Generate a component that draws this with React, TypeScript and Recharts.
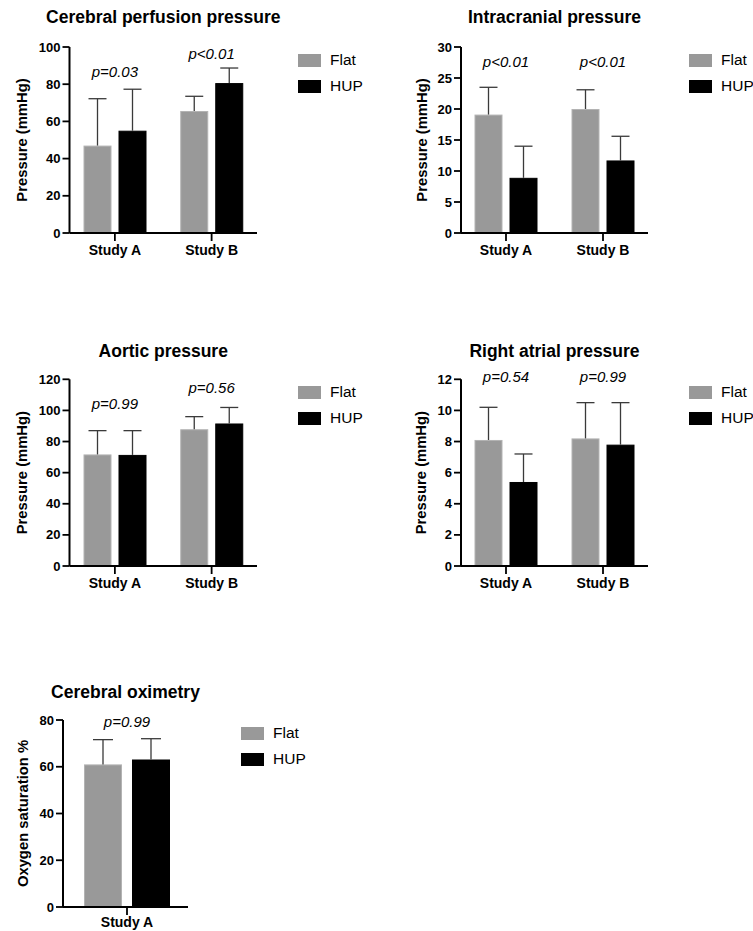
import React from 'react';
import { BarChart, Bar, XAxis, YAxis, Legend, ReferenceDot } from 'recharts';

const FONT = '"Liberation Sans", Arial, Helvetica, sans-serif';
const FLAT_COLOR = '#999999';
const HUP_COLOR = '#000000';
const WHISKER = '#3a3a3a';

/* ---------- DATA ---------- */
const studiesAB = ['Study A', 'Study B'];
const studyA = ['Study A'];

// Cerebral perfusion pressure
const cppFlat = [47, 65.6];
const cppFlatSd = [25.2, 7.9];
const cppHup = [55, 80.6];
const cppHupSd = [22.3, 8.1];
const cppP = ['p=0.03', 'p<0.01'];
const cppPAt = [87, 96.5];
const cppTicks = [0, 20, 40, 60, 80, 100];

// Intracranial pressure
const icpFlat = [19.1, 20];
const icpFlatSd = [4.4, 3.1];
const icpHup = [8.9, 11.7];
const icpHupSd = [5.1, 3.9];
const icpP = ['p<0.01', 'p<0.01'];
const icpPAt = [27.7, 27.7];
const icpTicks = [0, 5, 10, 15, 20, 25, 30];

// Aortic pressure
const aoFlat = [71.7, 87.9];
const aoFlatSd = [15.3, 8.1];
const aoHup = [71.4, 91.6];
const aoHupSd = [15.6, 10.3];
const aoP = ['p=0.99', 'p=0.56'];
const aoPAt = [104.4, 114.6];
const aoTicks = [0, 20, 40, 60, 80, 100, 120];

// Right atrial pressure
const rapFlat = [8.1, 8.2];
const rapFlatSd = [2.1, 2.3];
const rapHup = [5.4, 7.8];
const rapHupSd = [1.8, 2.7];
const rapP = ['p=0.54', 'p=0.99'];
const rapPAt = [12.15, 12.15];
const rapTicks = [0, 2, 4, 6, 8, 10, 12];

// Cerebral oximetry
const oxFlat = [61];
const oxFlatSd = [10.6];
const oxHup = [63.1];
const oxHupSd = [8.9];
const oxP = ['p=0.99'];
const oxPAt = [79.3];
const oxTicks = [0, 20, 40, 60, 80];

/* ---------- HELPERS ---------- */
const makeRows = (
  cats: string[],
  flat: number[],
  flatSd: number[],
  hup: number[],
  hupSd: number[]
) =>
  cats.map((study, i) => ({
    study,
    flat: flat[i],
    flatSd: flatSd[i],
    hup: hup[i],
    hupSd: hupSd[i],
  }));

// bar rectangle plus an upward-only SD whisker
const barWithWhisker =
  (valKey: string, sdKey: string, edge: string, cap: number) => (props: any) => {
    const { x, y, width, height, fill, payload } = props;
    const v = payload[valKey];
    const sd = payload[sdKey];
    const unit = v ? height / v : 0;
    const cx = x + width / 2;
    const top = y - sd * unit;
    return (
      <g>
        <rect
          x={x + 0.5}
          y={y + 0.5}
          width={Math.max(width - 1, 0)}
          height={Math.max(height - 1, 0)}
          fill={fill}
          stroke={edge}
          strokeWidth={1}
        />
        <line x1={cx} x2={cx} y1={y} y2={top} stroke={WHISKER} strokeWidth={1.3} />
        <line
          x1={cx - cap / 2}
          x2={cx + cap / 2}
          y1={top}
          y2={top}
          stroke={WHISKER}
          strokeWidth={1.3}
        />
      </g>
    );
  };

const legendContent = (props: any) => (
  <div style={{ fontFamily: FONT }}>
    {(props.payload || []).map((e: any) => (
      <div
        key={e.value}
        style={{ display: 'flex', alignItems: 'center', height: 26 }}
      >
        <span
          style={{
            display: 'inline-block',
            width: 23,
            height: 13,
            background: e.color,
          }}
        />
        <span style={{ marginLeft: 9, fontSize: 15.5, color: '#000' }}>
          {e.value}
        </span>
      </div>
    ))}
  </div>
);

interface PanelProps {
  left: number;
  top: number;
  width: number;
  height: number;
  title: string;
  titleTop: number;
  yLabel: string;
  yLabelX: number;
  rows: any[];
  ticks: number[];
  pTexts: string[];
  pAt: number[];
  axisX: number;
  axisEnd: number;
  plotTop: number;
  plotBottom: number;
  padL: number;
  padR: number;
  barSize: number;
  barGap: number;
  cap: number;
  legendLeft: number;
  xTickMargin: number;
}

const Y_AXIS_W = 40;
const X_AXIS_H = 24;

const Panel: React.FC<PanelProps> = (p) => {
  const plotCenter = (p.axisX + p.axisEnd) / 2;
  const max = p.ticks[p.ticks.length - 1];
  return (
    <div
      style={{
        position: 'absolute',
        left: p.left,
        top: p.top,
        width: p.width,
        height: p.height,
      }}
    >
      <div
        style={{
          position: 'absolute',
          left: plotCenter - 150,
          top: p.titleTop,
          width: 300,
          textAlign: 'center',
          fontFamily: FONT,
          fontWeight: 700,
          fontSize: 17.5,
          lineHeight: '17.5px',
          color: '#000',
          whiteSpace: 'nowrap',
        }}
      >
        {p.title}
      </div>
      <BarChart
        width={p.width}
        height={p.height}
        data={p.rows}
        barSize={p.barSize}
        barGap={p.barGap}
        margin={{
          top: p.plotTop,
          left: p.axisX - Y_AXIS_W,
          right: p.width - p.axisEnd,
          bottom: p.height - p.plotBottom - X_AXIS_H,
        }}
      >
        <Bar
          dataKey="flat"
          name="Flat"
          fill={FLAT_COLOR}
          shape={barWithWhisker('flat', 'flatSd', '#b3b3b3', p.cap)}
          isAnimationActive={false}
        />
        <Bar
          dataKey="hup"
          name="HUP"
          fill={HUP_COLOR}
          shape={barWithWhisker('hup', 'hupSd', '#000000', p.cap)}
          isAnimationActive={false}
        />
        <XAxis
          dataKey="study"
          type="category"
          interval={0}
          height={X_AXIS_H}
          padding={{ left: p.padL, right: p.padR }}
          axisLine={{ stroke: '#000', strokeWidth: 2 }}
          tickLine={{ stroke: '#000', strokeWidth: 1.8 }}
          tickSize={8}
          tickMargin={p.xTickMargin}
          tick={{
            fontSize: 14,
            fontWeight: 700,
            fill: '#000',
            fontFamily: FONT,
          }}
        />
        <YAxis
          type="number"
          width={Y_AXIS_W}
          domain={[0, max]}
          ticks={p.ticks}
          interval={0}
          axisLine={{ stroke: '#000', strokeWidth: 2 }}
          tickLine={{ stroke: '#000', strokeWidth: 1.8 }}
          tickSize={7}
          tickMargin={2}
          tick={{
            fontSize: 13,
            fontWeight: 700,
            fill: '#000',
            fontFamily: FONT,
          }}
          label={(lp: any) => {
            const vb = lp.viewBox || {};
            const cy = (vb.y || 0) + (vb.height || 0) / 2;
            return (
              <text
                x={p.yLabelX}
                y={cy}
                transform={`rotate(-90 ${p.yLabelX} ${cy})`}
                textAnchor="middle"
                dominantBaseline="central"
                fontFamily={FONT}
                fontWeight={700}
                fontSize={14.8}
                fill="#000"
              >
                {p.yLabel}
              </text>
            );
          }}
        />
        {p.pTexts.map((txt, i) => (
          <ReferenceDot
            key={i}
            x={p.rows[i].study}
            y={p.pAt[i]}
            r={0}
            fill="none"
            stroke="none"
            ifOverflow="visible"
            label={(lp: any) => {
              const vb = lp.viewBox || {};
              return (
                <text
                  x={vb.x + vb.width / 2}
                  y={vb.y + vb.height / 2}
                  textAnchor="middle"
                  dominantBaseline="central"
                  fontFamily={FONT}
                  fontStyle="italic"
                  fontSize={15}
                  fill="#000"
                >
                  {txt}
                </text>
              );
            }}
          />
        ))}
        <Legend
          layout="vertical"
          align="center"
          verticalAlign="middle"
          content={legendContent}
          wrapperStyle={{ left: p.legendLeft, top: p.plotTop, width: 80 }}
        />
      </BarChart>
    </div>
  );
};

const leftCol = {
  axisX: 69.5,
  axisEnd: 257,
  padL: -3,
  padR: -3,
  yLabelX: 22,
  legendLeft: 298,
  barSize: 28,
  barGap: 7,
  cap: 18,
  width: 376,
  xTickMargin: 4,
};

const rightCol = {
  axisX: 85,
  axisEnd: 272,
  padL: -3.5,
  padR: -3.5,
  yLabelX: 45.5,
  legendLeft: 313,
  barSize: 28,
  barGap: 7,
  cap: 18,
  width: 377,
  xTickMargin: 4,
};

export default function App() {
  return (
    <div
      style={{
        position: 'absolute',
        left: 0,
        top: 0,
        width: 753,
        height: 931,
        overflow: 'hidden',
        background: '#fff',
      }}
    >
      <Panel
        {...leftCol}
        left={0}
        top={0}
        height={262}
        title="Cerebral perfusion pressure"
        titleTop={9.2}
        yLabel="Pressure (mmHg)"
        rows={makeRows(studiesAB, cppFlat, cppFlatSd, cppHup, cppHupSd)}
        ticks={cppTicks}
        pTexts={cppP}
        pAt={cppPAt}
        plotTop={47}
        plotBottom={233}
      />
      <Panel
        {...rightCol}
        left={376}
        top={0}
        height={262}
        title="Intracranial pressure"
        titleTop={9.2}
        yLabel="Pressure (mmHg)"
        rows={makeRows(studiesAB, icpFlat, icpFlatSd, icpHup, icpHupSd)}
        ticks={icpTicks}
        pTexts={icpP}
        pAt={icpPAt}
        plotTop={47}
        plotBottom={233}
      />
      <Panel
        {...leftCol}
        left={0}
        top={330}
        height={265}
        title="Aortic pressure"
        titleTop={12.7}
        yLabel="Pressure (mmHg)"
        rows={makeRows(studiesAB, aoFlat, aoFlatSd, aoHup, aoHupSd)}
        ticks={aoTicks}
        pTexts={aoP}
        pAt={aoPAt}
        plotTop={49.3}
        plotBottom={236}
      />
      <Panel
        {...rightCol}
        left={376}
        top={330}
        height={265}
        title="Right atrial pressure"
        titleTop={12.7}
        yLabel="Pressure (mmHg)"
        rows={makeRows(studiesAB, rapFlat, rapFlatSd, rapHup, rapHupSd)}
        ticks={rapTicks}
        pTexts={rapP}
        pAt={rapPAt}
        plotTop={49.3}
        plotBottom={236}
      />
      <Panel
        left={0}
        top={670}
        width={376}
        height={261}
        title="Cerebral oximetry"
        titleTop={14.4}
        yLabel="Oxygen saturation %"
        yLabelX={22.5}
        rows={makeRows(studyA, oxFlat, oxFlatSd, oxHup, oxHupSd)}
        ticks={oxTicks}
        pTexts={oxP}
        pAt={oxPAt}
        axisX={63}
        axisEnd={188}
        plotTop={50}
        plotBottom={237}
        padL={0}
        padR={-3}
        barSize={38}
        barGap={10}
        cap={20}
        legendLeft={241}
        xTickMargin={2}
      />
    </div>
  );
}
